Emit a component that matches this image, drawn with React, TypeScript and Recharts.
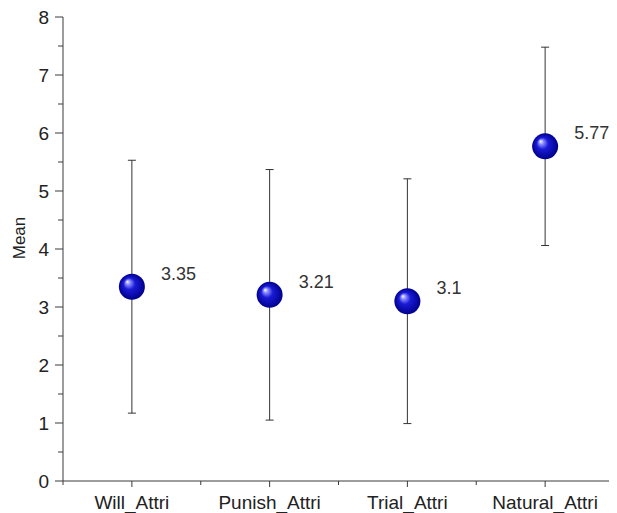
import { ErrorBar, Scatter, ScatterChart, XAxis, YAxis } from "recharts"

const categories = ["Will_Attri", "Punish_Attri", "Trial_Attri", "Natural_Attri"]
const means = [3.35, 3.21, 3.1, 5.77]
const sds = [2.18, 2.16, 2.11, 1.71]
const yTicks = [0, 0.5, 1, 1.5, 2, 2.5, 3, 3.5, 4, 4.5, 5, 5.5, 6, 6.5, 7, 7.5, 8]
const xTicks = [0, 0.5, 1, 1.5, 2, 2.5, 3, 3.5, 4]

const data = categories.map((name, i) => ({ x: i + 0.5, name, mean: means[i], sd: sds[i] }))

const font = "'Liberation Sans', Arial, sans-serif"
const axisColor = "#3a3a3a"

function YTick(props: any) {
  const { x, y, payload } = props
  const major = Number.isInteger(payload.value)
  return (
    <g>
      <line x1={x - (major ? 8 : 5)} y1={y} x2={x} y2={y} stroke={axisColor} />
      {major && (
        <text x={x - 14} y={y} textAnchor="end" dominantBaseline="central" fontSize={19} fill="#222" fontFamily={font}>
          {payload.value}
        </text>
      )}
    </g>
  )
}

function XTick(props: any) {
  const { x, y, payload } = props
  const idx = payload.value - 0.5
  const isCat = Number.isInteger(idx)
  return (
    <g>
      <line x1={x} y1={y} x2={x} y2={y + (isCat ? 6 : 4)} stroke={axisColor} />
      {isCat && (
        <text x={x} y={y + 28} textAnchor="middle" fontSize={19} fill="#222" fontFamily={font}>
          {categories[idx]}
        </text>
      )}
    </g>
  )
}

function Sphere(props: any) {
  const { cx, cy, payload } = props
  return (
    <g>
      <circle cx={cx} cy={cy} r={13} fill="url(#sphere)" />
      <text x={cx + 29} y={cy - 13} dominantBaseline="central" fontSize={18} fill="#333" fontFamily={font}>
        {payload.mean}
      </text>
    </g>
  )
}

export default function App() {
  return (
    <div style={{ position: "relative", width: 609, height: 505 }}>
      <ScatterChart width={609} height={505} margin={{ top: 9, right: 3, bottom: 0, left: 0 }}>
        <defs>
          <radialGradient id="sphere" cx="50%" cy="50%" r="50%" fx="32%" fy="30%">
            <stop offset="0%" stopColor="#ffffff" />
            <stop offset="18%" stopColor="#8a8cff" />
            <stop offset="45%" stopColor="#1a1ad6" />
            <stop offset="100%" stopColor="#00008c" />
          </radialGradient>
        </defs>
        <XAxis
          type="number"
          dataKey="x"
          domain={[0, 4]}
          ticks={xTicks}
          interval={0}
          height={32}
          tickSize={0}
          tickMargin={0}
          tickLine={false}
          axisLine={{ stroke: axisColor }}
          tick={<XTick />}
        />
        <YAxis
          type="number"
          dataKey="mean"
          domain={[0, 8]}
          ticks={yTicks}
          interval={0}
          width={55}
          tickSize={0}
          tickMargin={0}
          tickLine={false}
          axisLine={{ stroke: axisColor }}
          tick={<YTick />}
        />
        <Scatter data={data} shape={<Sphere />} isAnimationActive={false}>
          <ErrorBar dataKey="sd" direction="y" width={4} stroke="#333" strokeWidth={1} />
        </Scatter>
      </ScatterChart>
      <div
        style={{
          position: "absolute",
          left: 11,
          top: 230,
          transform: "translate(-50%, -50%) rotate(-90deg)",
          fontFamily: font,
          fontSize: 17,
          color: "#222",
          whiteSpace: "nowrap",
          lineHeight: 1,
        }}
      >
        Mean
      </div>
    </div>
  )
}
